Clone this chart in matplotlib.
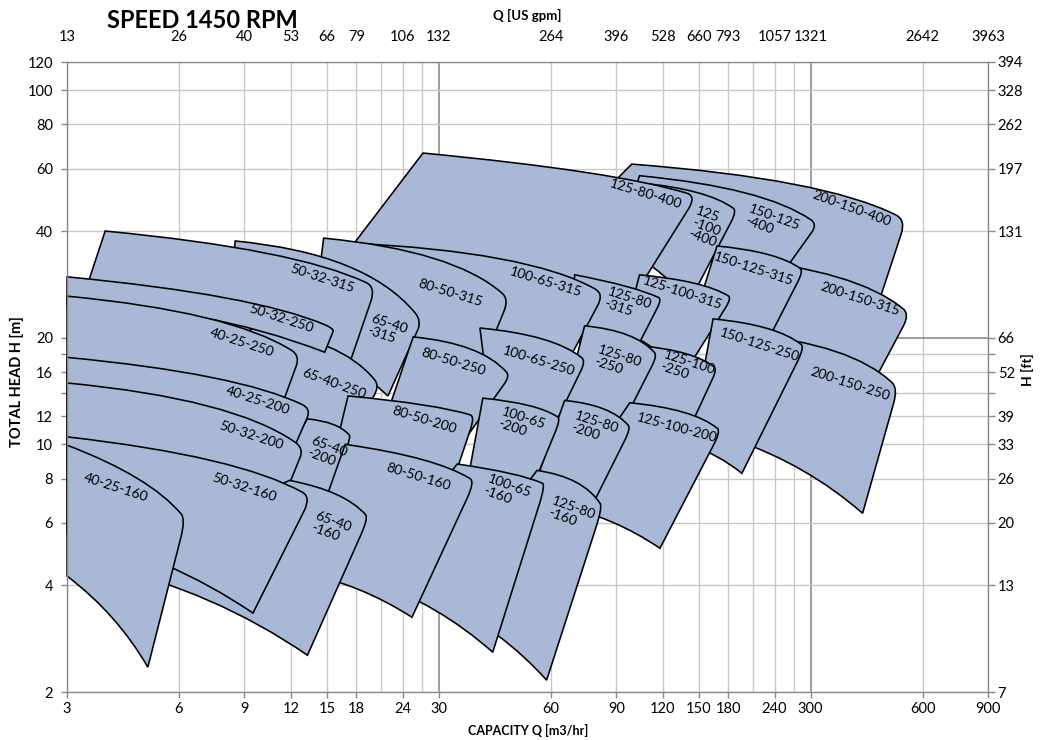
import numpy as np
import matplotlib
matplotlib.use('agg')
import matplotlib.pyplot as plt
from matplotlib.path import Path
from matplotlib.patches import PathPatch
from matplotlib.ticker import FixedLocator, NullFormatter

plt.rcParams['font.family'] = ['Lato', 'DejaVu Sans']

########################################################################
# data : pump ranges at 1450 rpm, in drawing order (later = on top)
########################################################################
pumps = ['200-150-400', '150-125-400', '125-100-400', '125-80-400',
         '200-150-315', '150-125-315', '125-100-315', '125-80-315',
         '100-65-315', '80-50-315', '65-40-315', '50-32-315',
         '200-150-250', '150-125-250', '125-100-250', '125-80-250',
         '100-65-250', '80-50-250', '65-40-250', '50-32-250', '40-25-250',
         '125-100-200', '125-80-200', '100-65-200', '80-50-200',
         '65-40-200', '40-25-200', '50-32-200',
         '125-80-160', '100-65-160', '80-50-160', '65-40-160',
         '50-32-160', '40-25-160']

# (Q m3/h, H m) of the four corners of every range
top_left = [(99.1, 61.8), (104, 57.3), (104, 54.7), (27.2, 66.4),
            (187, 33.4), (168, 36.3), (104, 30.1), (69.6, 30.1),
            (17.3, 37.0), (14.7, 38.2), (8.5, 37.5), (3.8, 40.0),
            (199.5, 20.5), (164, 22.6), (104, 19.0), (74.0, 21.6),
            (38.7, 21.3), (25.6, 20.1), (9.31, 21.2), (3.0, 29.7), (3.0, 26.2),
            (97.9, 13.1), (65.4, 13.3), (39.4, 13.5), (17.1, 13.7),
            (13.3, 11.8), (3.0, 17.6), (3.0, 14.9),
            (55.1, 8.44), (33.6, 8.8), (16.8, 10.0), (11.9, 7.91),
            (3.0, 10.5), (3.0, 9.95)]
corner = [(541, 43.0), (313, 41.8), (190, 45.6), (148, 50.2),
          (554, 23.3), (287, 30.9), (184, 25.9), (119.4, 25.7),
          (83.4, 26.6), (46.3, 25.7), (27.0, 22.3), (20.3, 27.8),
          (515, 14.4), (289, 18.8), (168, 16.3), (116, 17.8),
          (74.5, 17.2), (46.6, 15.6), (20.8, 14.6), (15.7, 21.2), (12.7, 17.8),
          (172, 10.9), (98.5, 11.1), (63.8, 11.8), (37.5, 12.0),
          (17.4, 10.5), (13.6, 12.6), (13.0, 9.75),
          (82.7, 6.65), (58.1, 7.7), (37.5, 7.85), (19.4, 6.2),
          (13.6, 7.1), (6.25, 6.15)]
bot_right = [(427, 20.2), (233, 27.1), (142, 25.4), (96.7, 24.6),
             (401, 12.3), (212, 16.6), (136, 15.6), (92, 15.1),
             (61.5, 14.6), (36.3, 13.7), (21.9, 13.7), (15.8, 12.9),
             (414, 6.39), (196, 8.28), (133, 9.61), (89, 10.3),
             (57.8, 9.95), (35.2, 10.3), (15.3, 8.44), (14.8, 18.2), (10.5, 10.3),
             (118, 5.09), (71.8, 5.72), (48.0, 5.72), (30.2, 6.10),
             (13.9, 5.72), (11.2, 7.91), (10.85, 6.10),
             (58.5, 2.16), (41.9, 2.59), (25.4, 3.25), (13.3, 2.54),
             (9.49, 3.34), (4.95, 2.35)]
bot_left = [(67.5, 41.3), (92, 38.7), (86.5, 37.5), (17.0, 34.8),
            (187, 20.9), (151, 25.4), (95, 20.9), (67.5, 20.2),
            (15.3, 25.4), (13.9, 23.8), (8.23, 25.4), (3.17, 22.5),
            (187.6, 10.3), (142, 9.95), (86.5, 10.9), (65.4, 12.9),
            (41.1, 12.9), (21.5, 11.7), (10.5, 11.7), (3.0, 24.6), (3.0, 15.1),
            (63.4, 6.73), (56.1, 8.44), (36.3, 8.44), (15.3, 8.44),
            (10.5, 7.91), (3.0, 10.3), (3.0, 8.44),
            (30.2, 3.63), (19.6, 4.14), (12.7, 4.36), (3.68, 4.56),
            (3.0, 5.61), (3.0, 4.25)]
# starting slope of the max impeller curve (log-log)
top_slope = [0.08, 0.1, 0.1, 0.1,
             0.1, 0.1, 0.1, 0.2,
             0.05, 0.1, 0.1, 0.1,
             0.1, 0.1, 0.1, 0.1,
             0.1, 0.1, 0.1, 0.1, 0.1,
             0.1, 0.1, 0.1, 0.1,
             0.1, 0.1, 0.1,
             0.15, 0.15, 0.15, 0.2,
             0.12, 0.4]

# labels of the ranges
label_text = ['200-150-400', '150-125\n-400', '125\n-100\n-400', '125-80-400',
              '200-150-315', '150-125-315', '125-100-315', '125-80\n-315',
              '100-65-315', '80-50-315', '65-40\n-315', '50-32-315',
              '200-150-250', '150-125-250', '125-100\n-250', '125-80\n-250',
              '100-65-250', '80-50-250', '65-40-250', '50-32-250', '40-25-250',
              '125-100-200', '125-80\n-200', '100-65\n-200', '80-50-200',
              '65-40\n-200', '40-25-200', '50-32-200',
              '125-80\n-160', '100-65\n-160', '80-50-160', '65-40\n-160',
              '50-32-160', '40-25-160']
label_q = [387, 237, 157, 108,
           406, 211, 136, 96.7,
           58.2, 32.3, 21.8, 14.6,
           382, 219, 140, 90.9,
           55.8, 32.9, 15.7, 11.3, 8.86,
           131, 78.8, 50.1, 27.5,
           15.0, 9.8, 9.37,
           68.3, 45.8, 26.5, 15.4,
           8.97, 4.06]
label_h = [46.2, 42.1, 41.1, 50.9,
           25.7, 31.3, 26.8, 24.9,
           28.7, 26.8, 21.0, 29.3,
           14.8, 19.1, 16.4, 17.1,
           17.2, 17.1, 14.8, 22.6, 19.4,
           11.1, 11.1, 11.4, 11.7,
           9.49, 13.3, 10.6,
           6.35, 7.32, 8.07, 5.83,
           7.57, 7.57]
label_rot = [-20, -20, -20, -17,
             -18, -18, -18, -18,
             -17, -17, -18, -18,
             -18, -18, -18, -18,
             -17, -17, -20, -18, -18,
             -15, -18, -18, -17,
             -20, -18, -18,
             -20, -20, -17, -20,
             -18, -18]

# axes
q_ticks = [3, 6, 9, 12, 15, 18, 24, 30, 60, 90, 120, 150, 180, 240, 300, 600, 900]
q_grid_extra = [21, 27, 210, 270]
gpm_labels = ['13', '26', '40', '53', '66', '79', '106', '132', '264', '396',
              '528', '660', '793', '1057', '1321', '2642', '3963']
h_ticks = [2, 4, 6, 8, 10, 12, 16, 20, 40, 60, 80, 100, 120]
h_grid_extra = [14, 18]
ft_labels = ['7', '13', '20', '26', '33', '39', '52', '66', '131', '197',
             '262', '328', '394']

FILL = '#a9b8d6'
GRID = '#c8c8c8'
GRID_DARK = '#8c8c8c'
SPINE = '#888888'


########################################################################
# one range as a closed path (curves are built in log-log space)
########################################################################
def tile_path(tl, k, br, bl, s0):
    TL, K, BR, BL = [np.log10(np.array(p, float)) for p in (tl, k, br, bl)]
    cu = TL[0] + 0.7 * (K[0] - TL[0])
    C = np.array([cu, TL[1] - s0 * (cu - TL[0])])
    A = K + 0.12 * (C - K)
    B = K + 0.12 * (BR - K)
    d = BR - BL
    n = np.array([-d[1], d[0]]) / np.hypot(*d)
    D = (BR + BL) / 2 + 0.1 * np.hypot(*d) * n
    verts = 10 ** np.array([TL, C, A, K, B, BR, D, BL, TL])
    codes = [Path.MOVETO, Path.CURVE3, Path.CURVE3, Path.CURVE3, Path.CURVE3,
             Path.LINETO, Path.CURVE3, Path.CURVE3, Path.CLOSEPOLY]
    return Path(verts, codes)


fig = plt.figure(figsize=(10.4, 7.4), dpi=100)
ax = fig.add_axes([67 / 1040, 48 / 740, 921 / 1040, 630 / 740])
ax.set_xscale('log')
ax.set_yscale('log')
ax.set_xlim(3, 900)
ax.set_ylim(2, 120)

# grid
for q in q_ticks + q_grid_extra:
    dark = q in (30, 300)
    ax.axvline(q, color=GRID_DARK if dark else GRID, lw=1.2 if dark else 1.0, zorder=0.5)
for h in h_ticks + h_grid_extra:
    dark = h == 20
    ax.axhline(h, color=GRID_DARK if dark else GRID, lw=1.2 if dark else 1.0, zorder=0.5)

for i in range(len(pumps)):
    p = tile_path(top_left[i], corner[i], bot_right[i], bot_left[i], top_slope[i])
    ax.add_patch(PathPatch(p, facecolor=FILL, edgecolor='black', lw=1.15,
                           zorder=2 + i * 0.01, clip_on=False, joinstyle='miter'))

for i in range(len(label_text)):
    ax.text(label_q[i], label_h[i], label_text[i], rotation=label_rot[i],
            rotation_mode='anchor', ha='center', va='center',
            multialignment='left', fontsize=10, linespacing=1.05, zorder=5)

# bottom / left axis
ax.minorticks_off()
ax.set_xticks(q_ticks, [str(q) for q in q_ticks])
ax.set_yticks(h_ticks, [str(h) for h in h_ticks])
ax.set_yticks(h_grid_extra, minor=True)
ax.yaxis.set_minor_formatter(NullFormatter())
ax.tick_params(axis='both', which='both', labelsize=10.5, color=SPINE, length=4, width=1)
ax.tick_params(axis='x', pad=3)
ax.tick_params(axis='y', pad=6)
for s in ax.spines.values():
    s.set_color(SPINE)

# top axis (US gpm)
axt = ax.twiny()
axt.set_xscale('log')
axt.set_xlim(3, 900)
axt.set_xticks(q_ticks, gpm_labels)
axt.xaxis.set_minor_locator(FixedLocator([30, 300]))
axt.xaxis.set_minor_formatter(NullFormatter())
axt.tick_params(axis='x', which='major', length=0, pad=13, labelsize=10.5)
axt.tick_params(axis='x', which='minor', length=7, width=1.2, color=GRID_DARK)

# right axis (ft)
axr = ax.twinx()
axr.set_yscale('log')
axr.set_ylim(2, 120)
axr.set_yticks(h_ticks, ft_labels)
axr.yaxis.set_minor_locator(FixedLocator(h_grid_extra))
axr.yaxis.set_minor_formatter(NullFormatter())
axr.tick_params(axis='y', which='both', length=5, width=1, color=SPINE, pad=2, labelsize=10.5)
for a in (axt, axr):
    for s in a.spines.values():
        s.set_color(SPINE)

fig.text(107 / 1040, 1 - 20 / 740, 'SPEED 1450 RPM', fontsize=17, fontweight='bold',
         ha='left', va='center')
fig.text(0.507, 1 - 15 / 740, 'Q [US gpm]', fontsize=9.5, fontweight='bold',
         ha='center', va='center')
fig.text(0.508, 1 - 730 / 740, 'CAPACITY Q [m3/hr]', fontsize=9, fontweight='bold',
         ha='center', va='center')
fig.text(17 / 1040, 1 - 382 / 740, 'TOTAL HEAD H [m]', fontsize=10.5, fontweight='bold',
         ha='center', va='center', rotation=90)
fig.text(1027 / 1040, 1 - 370 / 740, 'H [ft]', fontsize=10, fontweight='bold',
         ha='center', va='center', rotation=90)

fig.savefig('out.png', dpi=100)
